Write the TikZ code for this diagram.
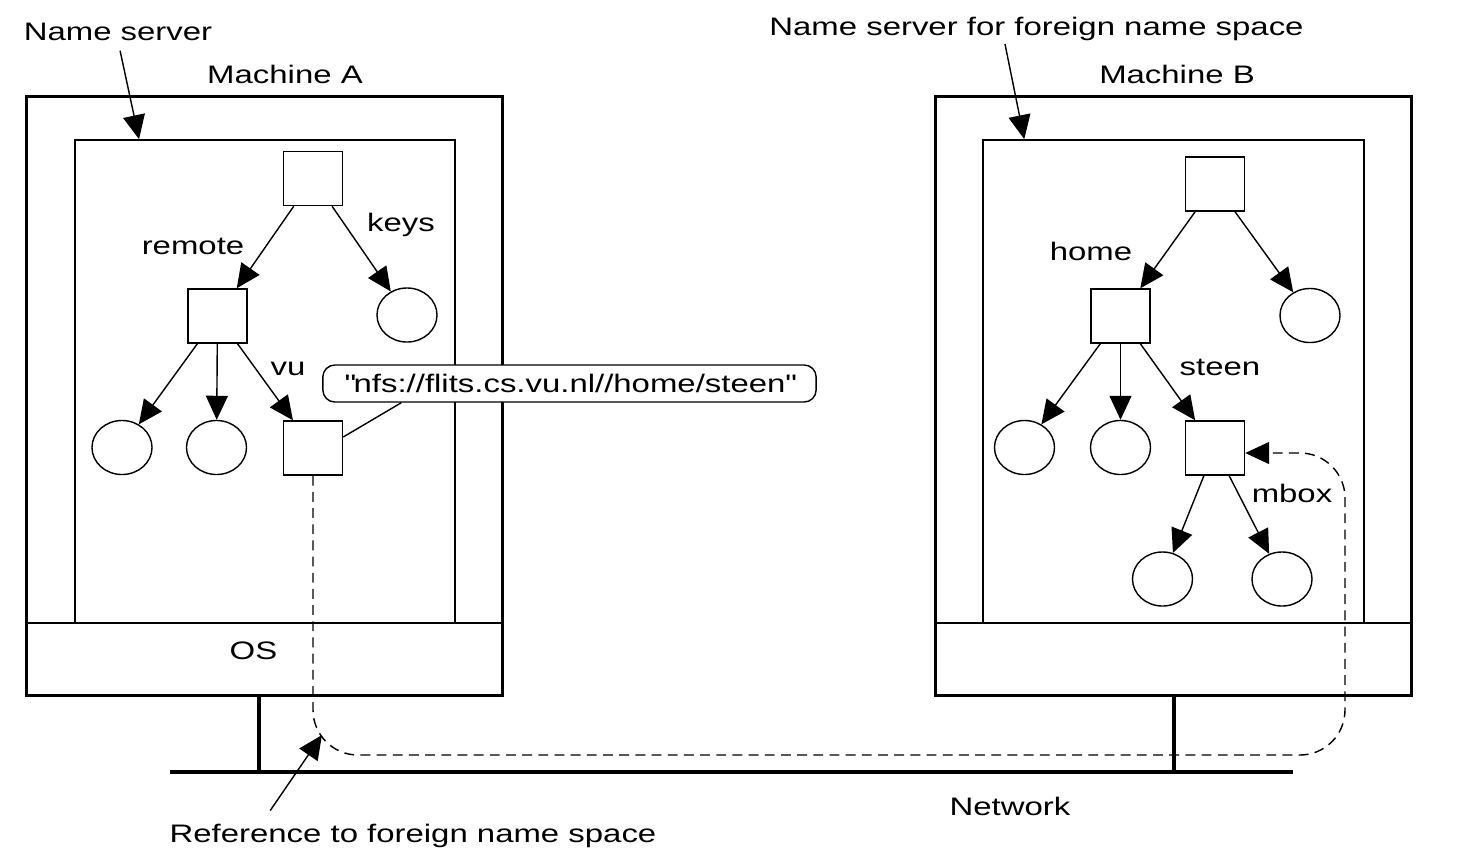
\documentclass[tikz,border=0pt]{standalone}
\usepackage{fontspec}
\setmainfont{Liberation Sans}[FakeStretch=1.3]
\usetikzlibrary{positioning,arrows.meta,shapes.geometric,calc}

\newcommand\straightquote{\XeTeXglyph\XeTeXcharglyph"22\relax}

\tikzset{
  dirnode/.style={draw, thin, minimum width=0.59cm, minimum height=0.54cm, inner sep=0pt},
  filenode/.style={draw, thin, ellipse, minimum width=0.6cm, minimum height=0.54cm, inner sep=0pt},
  ptr/.style={-{Triangle[length=0.24cm,width=0.22cm]}, thin},
  lbl/.style={anchor=base, inner sep=0pt},
  machine/.style={draw, line width=0.9pt, inner sep=0pt},
  nsbox/.style={draw, thin, inner sep=0pt},
}

\begin{document}
\begin{tikzpicture}[x=0.01cm, y=-0.01cm, font=\fontsize{7.2}{8.6}\selectfont]
        \useasboundingbox (0,0) rectangle (1472,866);
        % machine A
        \node[machine, minimum width=4.75cm, minimum height=5.98cm] (machA) at (264.5,396) {};
        \node[nsbox, minimum width=3.8cm, minimum height=4.83cm] (nsA) at (265,381.5) {};
        \coordinate (osLineA) at (0,623);
        \draw (machA.west |- osLineA) -- (machA.east |- osLineA);
        \node[lbl] (osA) at (253.5,659) {OS};
        \node[lbl] (machAlbl) at (285,83) {Machine A};
        \node[lbl] (nsAlbl) at (118,40) {Name server};
        \draw[ptr, shorten <=0.1cm] (nsAlbl.south) -- ($(nsA.north west)!0.17!(nsA.north east)$);
        \node[dirnode] (rootA) at (313,178.5) {};
        \node[dirnode] (remoteA) at (217.5,316) {};
        \node[filenode] (keysA) at (407,315) {};
        \node[filenode] (f1A) at (122,447.5) {};
        \node[filenode] (f2A) at (216.5,447.5) {};
        \node[dirnode] (vuA) at (313,448) {};
        \draw[ptr] (rootA) -- (remoteA);
        \draw[ptr] (rootA) -- (keysA);
        \draw[ptr] (remoteA) -- (f1A);
        \draw[ptr] (remoteA) -- (f2A);
        \draw[ptr] (remoteA) -- (vuA);
        \node[lbl] (remoteLbl) at (193,254) {remote};
        \node[lbl] (keysLbl) at (401,231) {keys};
        \node[lbl] (vuLbl) at (288,375) {vu};
        % machine B
        \node[machine, minimum width=4.75cm, minimum height=5.98cm] (machB) at (1173.5,396) {};
        \node[nsbox, minimum width=3.81cm, minimum height=4.83cm] (nsB) at (1173.5,381.5) {};
        \draw (machB.west |- osLineA) -- (machB.east |- osLineA);
        \node[lbl] (machBlbl) at (1177,83) {Machine B};
        \node[lbl] (nsBlbl) at (1036.5,35) {Name server for foreign name space};
        \draw[ptr, shorten <=0.03cm] ($(nsBlbl.south west)!0.44!(nsBlbl.south east)$) -- ($(nsB.north west)!0.11!(nsB.north east)$);
        \node[dirnode] (rootB) at (1215,184) {};
        \node[dirnode] (homeB) at (1120.5,316) {};
        \node[filenode] (f0B) at (1310,315.5) {};
        \node[filenode] (f1B) at (1024.5,447.5) {};
        \node[filenode] (f2B) at (1120.5,447.5) {};
        \node[dirnode] (steenB) at (1215,448) {};
        \node[filenode] (f3B) at (1162.5,579) {};
        \node[filenode] (f4B) at (1282,579) {};
        \draw[ptr] (rootB) -- (homeB);
        \draw[ptr] (rootB) -- (f0B);
        \draw[ptr] (homeB) -- (f1B);
        \draw[ptr] (homeB) -- (f2B);
        \draw[ptr] (homeB) -- (steenB);
        \draw[ptr] (steenB) -- (f3B);
        \draw[ptr] (steenB) -- (f4B);
        \node[lbl] (homeLbl) at (1091,260) {home};
        \node[lbl] (steenLbl) at (1220,375) {steen};
        \node[lbl] (mboxLbl) at (1292,502) {mbox};
        % network
        \coordinate (netL) at (170,772);
        \coordinate (netR) at (1293,772);
        \coordinate (netA) at (259,772);
        \coordinate (netB) at (1174,772);
        \draw[line width=1.4pt] (netL) -- (netR);
        \draw[line width=1.1pt] (machA.south -| netA) -- (netA);
        \draw[line width=1.1pt] (machB.south -| netB) -- (netB);
        \node[lbl] (netLbl) at (1010,815) {Network};
        % mount reference
        \coordinate (bendA) at (313,755);
        \coordinate (bendB) at (1345,755);
        \coordinate (bendC) at (1345,453);
        \draw[ptr, dash pattern=on 2.8pt off 1.8pt, rounded corners=0.45cm] (vuA.south) -- (bendA) -- (bendB) -- (bendC) -- (steenB.east |- bendC);
        \node[draw, thin, fill=white, rounded corners=0.12cm, minimum width=4.93cm, minimum height=0.37cm, inner sep=0pt] (urlA) at (569.5,383.5) {\straightquote nfs://flits.cs.vu.nl//home/steen\straightquote};
        \draw (vuA.20) -- ($(urlA.south west)!0.16!(urlA.south east)$);
        \node[lbl] (refLbl) at (413,842) {Reference to foreign name space};
        \coordinate (refTip) at (322,735);
        \draw[ptr, shorten <=0.15cm] ($(refLbl.north west)!0.19!(refLbl.north east)$) -- (refTip);
\end{tikzpicture}
\end{document}
